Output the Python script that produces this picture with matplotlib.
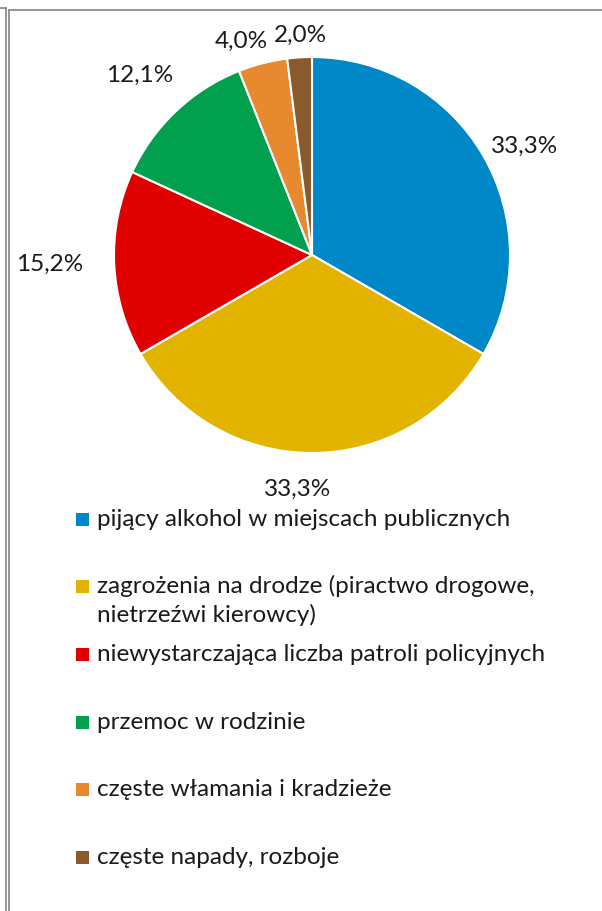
import matplotlib.pyplot as plt
import numpy as np
from matplotlib.patches import Rectangle

plt.rcParams["font.family"] = ["Lato", "DejaVu Sans"]

categories = [
    "pijący alkohol w miejscach publicznych",
    "zagrożenia na drodze (piractwo drogowe,\nnietrzeźwi kierowcy)",
    "niewystarczająca liczba patroli policyjnych",
    "przemoc w rodzinie",
    "częste włamania i kradzieże",
    "częste napady, rozboje",
]
shares = [33.3, 33.3, 15.2, 12.1, 4.0, 2.0]
colors = ["#0087C7", "#E2B400", "#E10000", "#00A04E", "#E6892F", "#8A5A2C"]

# where each percentage label sits: distance in pie radii, and a small
# turn (degrees) away from the wedge's middle angle
label_dist = [1.213, 1.174, 1.324, 1.265, 1.145, 1.123]
label_turn = [-2.5, -3.6, -1.1, 0.0, 3.7, -0.7]

W, H = 602, 911
fig = plt.figure(figsize=(W / 100, H / 100), dpi=100)

# pie: centre (312, 255) px, radius 198 px
cx, cy, r = 312, 255, 198
ax = fig.add_axes([(cx - r) / W, (H - cy - r) / H, 2 * r / W, 2 * r / H])
wedges, _ = ax.pie(shares, colors=colors, startangle=90, counterclock=False,
                   wedgeprops=dict(edgecolor="white", linewidth=1.5))
ax.set_xlim(-1, 1)
ax.set_ylim(-1, 1)
ax.set_aspect("equal")
ax.axis("off")

for w, val, d, t in zip(wedges, shares, label_dist, label_turn):
    mid = np.deg2rad((w.theta1 + w.theta2) / 2 + t)
    ax.text(d * np.cos(mid), d * np.sin(mid), f"{val:.1f}%".replace(".", ","),
            ha="center", va="center_baseline", fontsize=17.5, color="#1a1a1a",
            clip_on=False)

# overlay in pixel units for the legend and the table border
ov = fig.add_axes([0, 0, 1, 1], zorder=-1)
ov.set_xlim(0, W)
ov.set_ylim(H, 0)
ov.axis("off")

border = "#8c8c8c"
ov.plot([5.5, 5.5], [8, H], color=border, lw=1.3)
ov.plot([8.5, 8.5], [9.5, H], color=border, lw=1.3)
ov.plot([0, 5.5], [8, 8], color=border, lw=1.3)
ov.plot([8.5, W], [9.5, 9.5], color=border, lw=1.3)

legend_y = [519, 586, 654, 722, 789, 857]
for label, col, y in zip(categories, colors, legend_y):
    ov.add_patch(Rectangle((76, y - 6.5), 13, 13, facecolor=col, edgecolor="none"))
    for i, line in enumerate(label.split("\n")):
        ov.text(97, y + 7 + 29 * i, line, ha="left", va="baseline",
                fontsize=17.5, color="#1a1a1a")

fig.savefig("out.png", dpi=100)
